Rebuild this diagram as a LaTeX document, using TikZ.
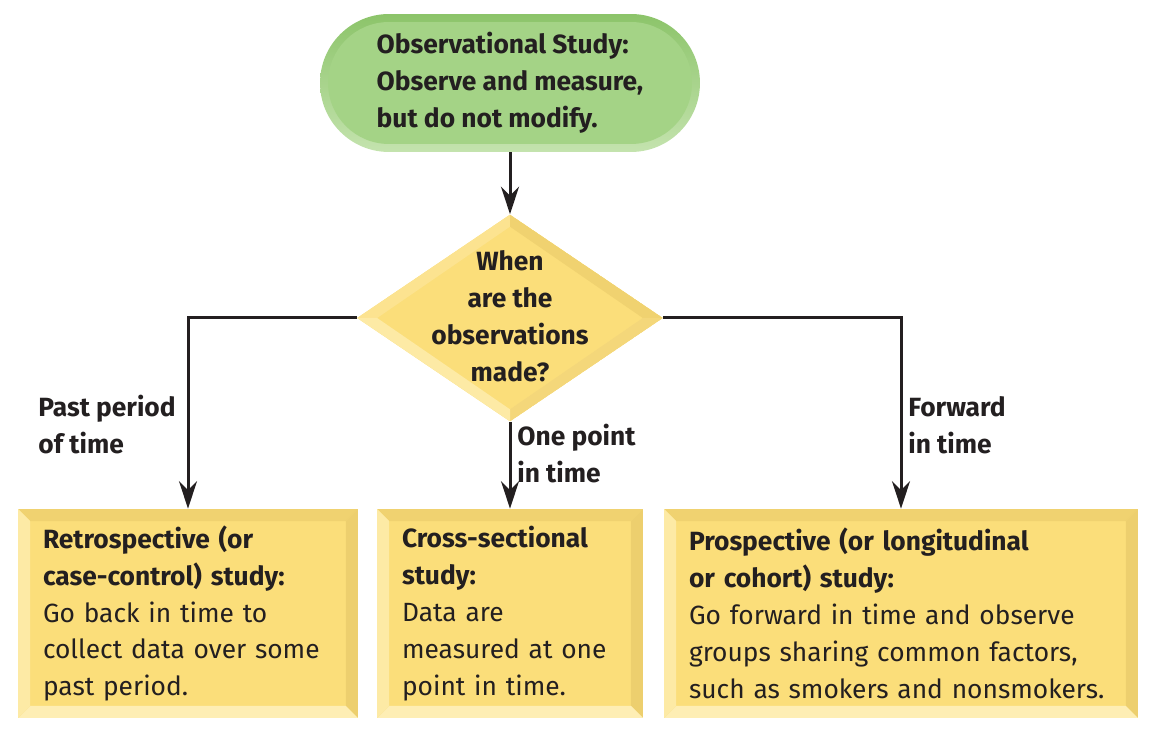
\documentclass[tikz,border=0pt]{standalone}
\usepackage{fontspec}
\setmainfont{Fira Sans}
\usetikzlibrary{arrows.meta,shapes.geometric}

\definecolor{ink}{HTML}{231F20}
\definecolor{leafface}{HTML}{A4D386}
\definecolor{leafdark}{HTML}{8CC46A}
\definecolor{leaflight}{HTML}{C4E3AE}
\definecolor{sunface}{HTML}{FBDE7A}
\definecolor{sunhigh}{HTML}{FCE390}
\definecolor{suntop}{HTML}{F0D270}
\definecolor{sunright}{HTML}{EDCF6E}
\definecolor{sunmid}{HTML}{F4D77A}
\definecolor{sunleft}{HTML}{FDEAA5}
\definecolor{sunbottom}{HTML}{FEEEB4}

\newcommand\chartfont{\fontsize{15pt}{21pt}\selectfont}

\tikzset{
	studypill/.style={rectangle, rounded corners=1.38cm, minimum width=7.6cm, minimum height=2.76cm,
		top color=leafdark, bottom color=leaflight, align=left, font=\chartfont\bfseries, text=ink,
		path picture={
			\fill[leafface, rounded corners=1.22cm]
			([xshift=1.6mm,yshift=-1.6mm]path picture bounding box.north west) rectangle
			([xshift=-1.6mm,yshift=1.6mm]path picture bounding box.south east);
		}},
	askdiamond/.style={diamond, minimum width=6.12cm, minimum height=4.14cm, inner sep=0pt, fill=sunface,
		path picture={
			\coordinate (dn) at (path picture bounding box.north);
			\coordinate (de) at (path picture bounding box.east);
			\coordinate (ds) at (path picture bounding box.south);
			\coordinate (dw) at (path picture bounding box.west);
			\fill[sunhigh] (dw) -- (dn) -- ([yshift=-2.4mm]dn) -- ([xshift=4mm]dw) -- cycle;
			\fill[suntop] (dn) -- (de) -- ([xshift=-4mm]de) -- ([yshift=-2.4mm]dn) -- cycle;
			\fill[sunmid] (de) -- (ds) -- ([yshift=2.4mm]ds) -- ([xshift=-4mm]de) -- cycle;
			\fill[sunleft] (ds) -- (dw) -- ([xshift=4mm]dw) -- ([yshift=2.4mm]ds) -- cycle;
		}},
	studybox/.style={rectangle, fill=sunface, minimum height=4.18cm, inner xsep=0.5cm, inner ysep=0pt,
		align=left, text=ink, font=\chartfont,
		path picture={
			\coordinate (b1) at (path picture bounding box.north west);
			\coordinate (b2) at (path picture bounding box.north east);
			\coordinate (b3) at (path picture bounding box.south east);
			\coordinate (b4) at (path picture bounding box.south west);
			\fill[suntop] (b1) -- (b2) -- ([xshift=-2.4mm,yshift=-2.4mm]b2) -- ([xshift=2.4mm,yshift=-2.4mm]b1) -- cycle;
			\fill[sunright] (b2) -- (b3) -- ([xshift=-2.4mm,yshift=2.4mm]b3) -- ([xshift=-2.4mm,yshift=-2.4mm]b2) -- cycle;
			\fill[sunbottom] (b3) -- (b4) -- ([xshift=2.4mm,yshift=2.4mm]b4) -- ([xshift=-2.4mm,yshift=2.4mm]b3) -- cycle;
			\fill[sunleft] (b4) -- (b1) -- ([xshift=2.4mm,yshift=-2.4mm]b1) -- ([xshift=2.4mm,yshift=2.4mm]b4) -- cycle;
		}},
	branchlabel/.style={align=left, font=\chartfont\bfseries, text=ink},
	flow/.style={draw=ink, line width=0.06cm, -{Stealth[length=0.55cm,width=0.36cm]}}
}

\begin{document}
\begin{tikzpicture}[x=0.02cm, y=-0.02cm]
	\useasboundingbox (0,0) rectangle (1158,739);

	\node[studypill] (obs) at (510,83) {Observational Study:\\Observe and measure,\\but do not modify.};
	\node[askdiamond] (when) at (510,318) {};
	\node[align=center, font=\chartfont\bfseries, text=ink] (whentext) at (510,316) {When\\are the\\observations\\made?};

	\node[studybox, text width=5.8cm] (retro) at (188,613.5)
	{\textbf{Retrospective (or}\\\textbf{case-control) study:}\\Go back in time to\\collect data over some\\past period.};
	\node[studybox, text width=4.32cm] (cross) at (510,613.5)
	{\textbf{Cross-sectional}\\\textbf{study:}\\Data are\\measured at one\\point in time.};
	\node[studybox, text width=8.48cm] (prosp) at (901,613.5)
	{\textbf{Prospective (or longitudinal}\\\textbf{or cohort) study:}\\Go forward in time and observe\\groups sharing common factors,\\such as smokers and nonsmokers.};

	\draw[flow] (obs) -- (when);
	\draw[flow] (when.west) -| node[branchlabel, pos=0.78, left, xshift=-0.1cm] {Past period\\of time} (retro);
	\draw[flow] (when) -- node[branchlabel, pos=0.37, right] {One point\\in time} (cross);
	\draw[flow] (when.east) -| node[branchlabel, pos=0.78, right] {Forward\\in time} (prosp);
\end{tikzpicture}
\end{document}
